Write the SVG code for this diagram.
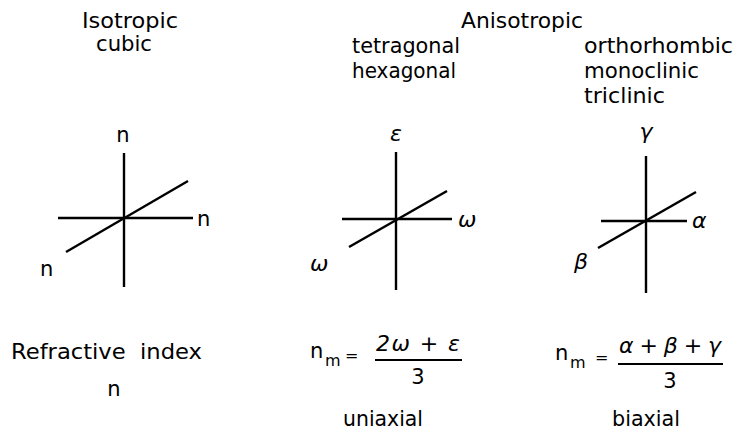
<svg xmlns="http://www.w3.org/2000/svg" width="741" height="431" viewBox="0 0 741 431">
<style>
.t{font-family:"DejaVu Sans","Liberation Sans",sans-serif;font-size:21px;fill:#000}
.g{font-family:"DejaVu Sans","Liberation Sans",sans-serif;font-size:22px;font-style:italic;fill:#000}
.s{font-family:"DejaVu Sans","Liberation Sans",sans-serif;font-size:16px;fill:#000}
.ax{stroke:#000;stroke-width:2.4;fill:none;stroke-linecap:butt}
.fr{stroke:#000;stroke-width:2;fill:none}
</style>
<rect width="741" height="431" fill="#fff"/>
<g id="headers">
<text class="t" x="130" y="28" text-anchor="middle" textLength="96" lengthAdjust="spacingAndGlyphs">Isotropic</text>
<text class="t" x="124" y="51" text-anchor="middle" textLength="56" lengthAdjust="spacingAndGlyphs">cubic</text>
<text class="t" x="522" y="28" text-anchor="middle" textLength="122" lengthAdjust="spacingAndGlyphs">Anisotropic</text>
<text class="t" x="352" y="53" textLength="108" lengthAdjust="spacingAndGlyphs">tetragonal</text>
<text class="t" x="352" y="78" textLength="104" lengthAdjust="spacingAndGlyphs">hexagonal</text>
<text class="t" x="584" y="53" textLength="149" lengthAdjust="spacingAndGlyphs">orthorhombic</text>
<text class="t" x="584" y="78" textLength="115" lengthAdjust="spacingAndGlyphs">monoclinic</text>
<text class="t" x="584" y="103" textLength="81" lengthAdjust="spacingAndGlyphs">triclinic</text>
</g>
<g id="connectors">
<line class="ax" x1="124" y1="153" x2="124" y2="287"/>
<line class="ax" x1="58" y1="218" x2="193" y2="218"/>
<line class="ax" x1="66" y1="252" x2="188" y2="181"/>
<line class="ax" x1="396" y1="152" x2="396" y2="290"/>
<line class="ax" x1="342" y1="219" x2="452" y2="219"/>
<line class="ax" x1="349" y1="247" x2="447" y2="191"/>
<line class="ax" x1="646" y1="156" x2="646" y2="293"/>
<line class="ax" x1="601" y1="221" x2="687" y2="221"/>
<line class="ax" x1="598" y1="248" x2="696" y2="192"/>
</g>
<g id="isotropic">
<text class="t" x="123" y="142" text-anchor="middle">n</text>
<text class="t" x="197" y="226">n</text>
<text class="t" x="40" y="276">n</text>
</g>
<g id="uniaxial">
<text class="g" x="396" y="141" text-anchor="middle">ε</text>
<text class="g" x="458" y="227">ω</text>
<text class="g" x="310" y="271">ω</text>
</g>
<g id="biaxial">
<text class="g" x="646" y="139" text-anchor="middle">γ</text>
<text class="g" x="692" y="228">α</text>
<text class="g" x="574" y="269">β</text>
</g>
<g id="refractive">
<text class="t" x="11" y="359" xml:space="preserve" textLength="191" lengthAdjust="spacingAndGlyphs">Refractive  index</text>
<text class="t" x="114" y="396" text-anchor="middle">n</text>
</g>
<g id="formula-uniaxial">
<text class="t" x="310" y="358">n</text>
<text class="s" x="325" y="366">m</text>
<text class="s" x="345" y="361">=</text>
<text class="g" x="418" y="351" text-anchor="middle" textLength="84" lengthAdjust="spacing">2ω + ε</text>
<line class="fr" x1="375" y1="360" x2="462" y2="360"/>
<text class="t" x="418" y="384" text-anchor="middle">3</text>
<text class="t" x="343" y="426" textLength="80" lengthAdjust="spacingAndGlyphs">uniaxial</text>
</g>
<g id="formula-biaxial">
<text class="t" x="555" y="360">n</text>
<text class="s" x="570" y="368">m</text>
<text class="s" x="595" y="363">=</text>
<text class="g" x="670" y="353" text-anchor="middle" textLength="102" lengthAdjust="spacing">α + β + γ</text>
<line class="fr" x1="618" y1="364" x2="723" y2="364"/>
<text class="t" x="670" y="388" text-anchor="middle">3</text>
<text class="t" x="612" y="426" textLength="68" lengthAdjust="spacingAndGlyphs">biaxial</text>
</g>
</svg>
